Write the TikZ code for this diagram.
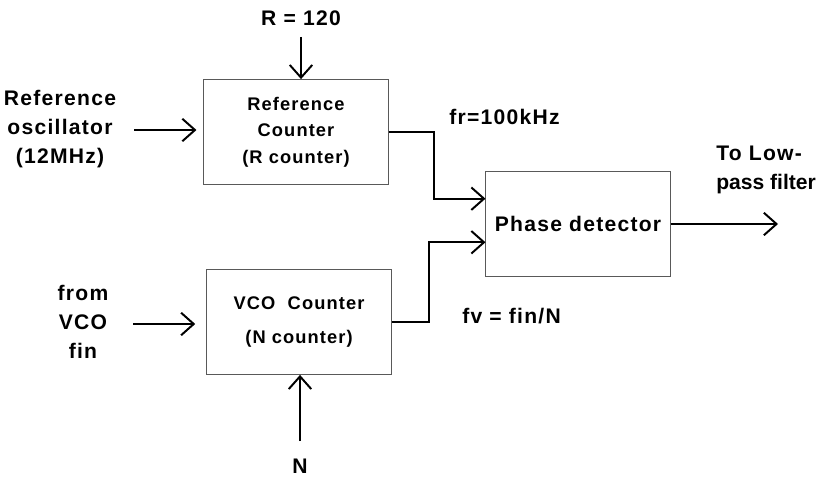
\documentclass[tikz,border=0pt]{standalone}
\usepackage{fontspec}
\setmainfont{Liberation Sans}[LetterSpace=6]
\usetikzlibrary{arrows.meta, positioning}

\begin{document}
\begin{tikzpicture}[x=0.025cm, y=-0.025cm,
  blk/.style={draw=black!65, line width=0.7pt, minimum width=4.6cm, minimum height=2.62cm, align=center, font=\bfseries\fontsize{13}{19}\selectfont},
  lbl/.style={align=center, inner sep=0pt, font=\bfseries\fontsize{15}{20.6}\selectfont},
  sig/.style={line width=1.4pt, -{Straight Barb[length=9pt, width=16pt, line width=1.4pt]}}]
  \useasboundingbox (0,0) rectangle (828,479);
  \node[blk](rc) at (296,132) {Reference\\Counter\\(R counter)};
  \node[blk](vco) at (299,322) {VCO~ Counter\\[4.5pt](N counter)};
  \node[blk, font=\bfseries\fontsize{15}{18}\selectfont](pd) at (578,224) {Phase detector};

  \node[lbl](osc) at (60,129) {Reference\\oscillator\\(12MHz)};
  \node[lbl](fvco) at (83,322) {from\\VCO\\fin};
  \node[lbl](rv) at (301,18) {R = 120};
  \node[lbl](nv) at (300,466) {N};
  \node[lbl, anchor=west](fr) at (449,117) {fr=100kHz};
  \node[lbl, anchor=west](fv) at (462,316) {fv = fin/N};
  \node[lbl, anchor=west, align=left](lp) at (716,170) {To Low-\\\addfontfeature{LetterSpace=0}pass filter};

  \coordinate (oscin) at (134,130);
  \coordinate (vcoin) at (133,324);
  \coordinate (rin) at (301,37);
  \coordinate (nin) at (300,441);
  \coordinate (lpf) at (778,224);

  \draw[sig, shorten >=5pt](oscin)--(oscin -| rc.west);
  \draw[sig, shorten >=8pt](vcoin)--(vcoin -| vco.west);
  \draw[sig](rin)--(rin |- rc.north);
  \draw[sig](nin)--(nin |- vco.south);
  \draw[sig](rc.east)-- ++(45,0) |- ([yshift=18pt]pd.west);
  \draw[sig](vco.east)-- ++(37,0) |- ([yshift=-13pt]pd.west);
  \draw[sig](pd.east)--(lpf);
\end{tikzpicture}
\end{document}
